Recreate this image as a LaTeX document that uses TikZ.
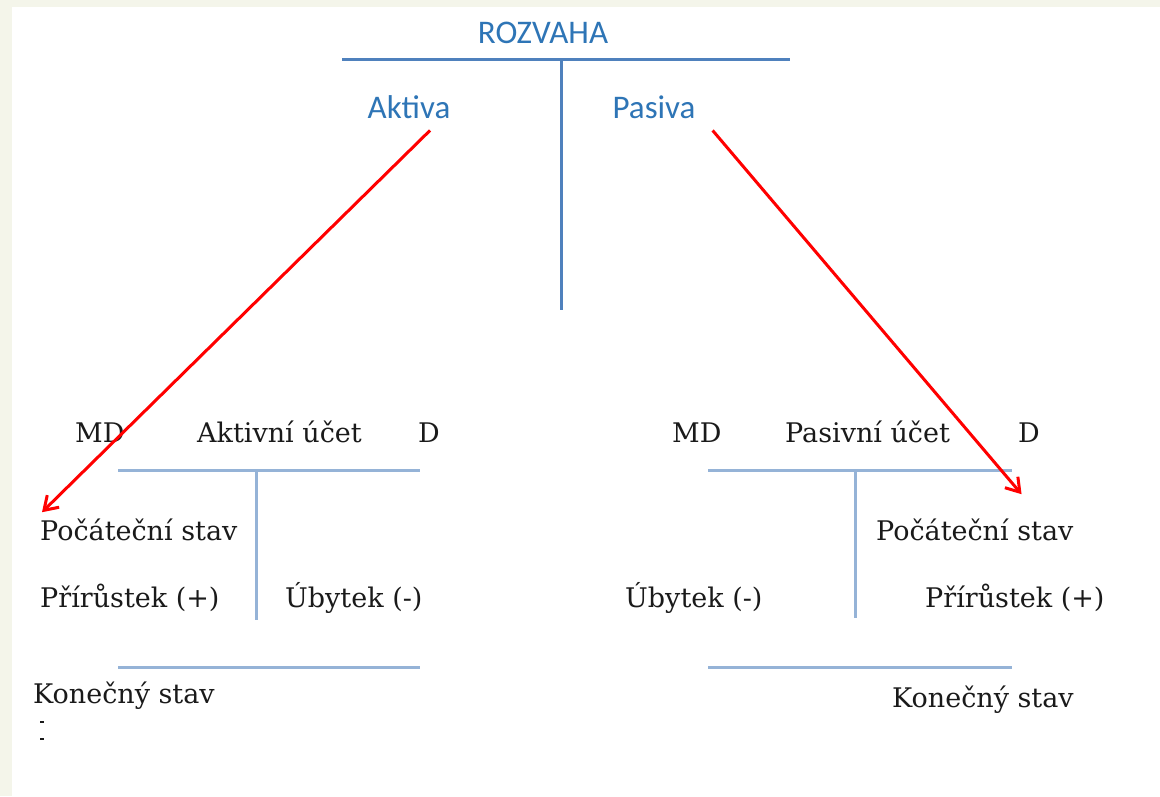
\documentclass[tikz,border=0pt]{standalone}
\usepackage{fontspec}
\setmainfont{DejaVu Serif}
\newfontfamily\calibri{Carlito}
\usetikzlibrary{arrows.meta}
\definecolor{hdrblue}{RGB}{46,117,182}
\definecolor{tblue}{RGB}{79,129,189}
\definecolor{tlight}{RGB}{149,179,215}
\definecolor{ink}{RGB}{26,26,26}
\definecolor{slide}{RGB}{244,245,234}

\begin{document}
\begin{tikzpicture}
	[x=1pt, y=-1pt,
	 head/.style={text=hdrblue, font=\calibri\fontsize{33}{36}\selectfont, inner sep=0pt, anchor=base},
	 acct/.style={text=ink, font=\fontsize{27}{30}\selectfont, inner sep=0pt, anchor=base west},
	 tbig/.style={draw=tblue, line width=3pt},
	 tline/.style={draw=tlight, line width=3pt},
	 redarrow/.style={draw=red, line width=3pt, -{Straight Barb[length=13pt, width=17pt]}}]
	\useasboundingbox (0,0) rectangle (1160,796);
	\fill[slide] (0,0) rectangle (1160,796);
	\fill[white] (12,7) rectangle (1160,796);

	% rozvaha
	\node[head] (rozvaha) at (543,43) {ROZVAHA};
	\node[head] (aktiva) at (409,118) {Aktiva};
	\node[head] (pasiva) at (654,118) {Pasiva};
	\draw[tbig] (342,59) -- (790,59);
	\draw[tbig] (561,59) -- (561,310);

	% aktivni ucet
	\node[acct] (mdA) at (75,442) {MD};
	\node[acct] (uctA) at (197,442) {Aktivní účet};
	\node[acct] (dA) at (418,442) {D};
	\node[acct] (pocA) at (40,540) {Počáteční stav};
	\node[acct] (prirA) at (40,607) {Přírůstek (+)};
	\node[acct] (ubyA) at (285,607) {Úbytek (-)};
	\node[acct] (konA) at (33,703) {Konečný stav};
	\draw[tline] (118,470) -- (420,470);
	\draw[tline] (256,470) -- (256,620);
	\draw[tline] (118,667) -- (420,667);
	\draw[ink, line width=1.2pt] (40,722) -- (44,722);
	\draw[ink, line width=1.2pt] (40,739) -- (44,739);

	% pasivni ucet
	\node[acct] (mdP) at (672,442) {MD};
	\node[acct] (uctP) at (785,442) {Pasivní účet};
	\node[acct] (dP) at (1018,442) {D};
	\node[acct] (pocP) at (876,540) {Počáteční stav};
	\node[acct] (ubyP) at (625,607) {Úbytek (-)};
	\node[acct] (prirP) at (925,607) {Přírůstek (+)};
	\node[acct] (konP) at (892,707) {Konečný stav};
	\draw[tline] (708,470) -- (1012,470);
	\draw[tline] (855,470) -- (855,618);
	\draw[tline] (708,667) -- (1012,667);

	\draw[redarrow] ([xshift=21pt, yshift=-12pt]aktiva.south) -- ([xshift=2pt, yshift=6pt]pocA.north west);
	\draw[redarrow] ([xshift=17pt, yshift=-12pt]pasiva.south east) -- ([xshift=-52pt, yshift=24pt]pocP.north east);
\end{tikzpicture}
\end{document}
